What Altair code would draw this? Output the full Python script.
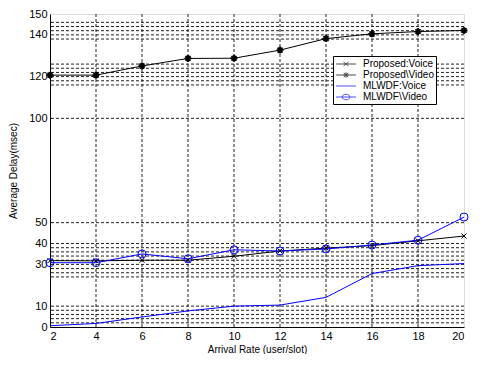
import altair as alt
import pandas as pd

x_vals = [2, 4, 6, 8, 10, 12, 14, 16, 18, 20]
prop_voice = [31.8, 31.7, 32.0, 32.0, 33.9, 36.4, 37.8, 39.0, 41.3, 43.6]
prop_video = [120.7, 120.7, 125.1, 128.7, 128.8, 132.7, 138.2, 140.5, 141.6, 142.1]
mlwdf_voice = [0.6, 1.7, 4.8, 7.7, 10.0, 10.5, 14.2, 25.6, 29.4, 30.4]
mlwdf_video = [30.8, 30.8, 35.0, 32.7, 37.0, 36.4, 37.4, 39.3, 41.6, 52.7]
series_names = ["Proposed:Voice", "Proposed\\Video", "MLWDF:Voice", "MLWDF\\Video"]
series_colors = ["#000000", "#000000", "#0000ff", "#0000ff"]
x_ticks = [2, 4, 6, 8, 10, 12, 14, 16, 18, 20]
y_labeled = [0, 10, 30, 40, 50, 100, 120, 140, 150]
y_grid = [2, 4, 6, 8, 10, 24, 26, 28, 30, 32, 34, 36, 38, 40, 50, 100,
          116, 118, 120, 122, 124, 126, 138, 140, 142, 144, 146]
x_grid = [4, 6, 8, 10, 12, 14, 16, 18]

rows = []
for name, vals in zip(series_names, [prop_voice, prop_video, mlwdf_voice, mlwdf_video]):
    for i, (xv, yv) in enumerate(zip(x_vals, vals)):
        rows.append({"x": xv, "y": yv, "series": name, "order": i})
df = pd.DataFrame(rows)

font = "Liberation Sans"

x_axis = alt.Axis(values=x_ticks, title="Arrival Rate (user/slot)", grid=False,
                  ticks=False, labelPadding=3, labelFontSize=11, titleFontSize=10,
                  titlePadding=3, labelFont=font, titleFont=font,
                  titleFontWeight="normal", domainColor="#000000",
                  labelColor="#000000", titleColor="#000000", labelOverlap=False)
y_axis = alt.Axis(values=y_labeled, title="Average Delay(msec)",
                  grid=False, ticks=False,
                  labelPadding=3, labelFontSize=11, titleFontSize=10,
                  titlePadding=10, labelFont=font, titleFont=font,
                  titleFontWeight="normal", domainColor="#000000",
                  labelColor="#000000", titleColor="#000000", labelOverlap=False)
x_scale = alt.Scale(domain=[2, 20], nice=False, zero=False)
y_scale = alt.Scale(domain=[0, 150], nice=False)

def X(field="x"):
    return alt.X(f"{field}:Q", scale=x_scale, axis=x_axis, title="Arrival Rate (user/slot)")

def Y(field="y"):
    return alt.Y(f"{field}:Q", scale=y_scale, axis=y_axis, title="Average Delay(msec)")

hgrid = alt.Chart(pd.DataFrame({"y": y_grid})).mark_rule(
    color="#222222", strokeWidth=1, strokeDash=[3, 2]
).encode(y=Y())
vgrid = alt.Chart(pd.DataFrame({"x": x_grid})).mark_rule(
    color="#222222", strokeWidth=1, strokeDash=[3, 2]
).encode(x=X())

base = alt.Chart(df)

line_layers = []
for name, col in zip(series_names, series_colors):
    line_layers.append(
        base.transform_filter(alt.datum.series == name).mark_line(strokeWidth=1, color=col)
        .encode(x=X(), y=Y(), order="order:Q")
    )

m_x = base.transform_filter(alt.datum.series == series_names[0]).mark_point(
    shape="M-1,-1L1,1M-1,1L1,-1", size=25, filled=False, color="#000000", strokeWidth=1, opacity=1
).encode(x=X(), y=Y())
m_star = base.transform_filter(alt.datum.series == series_names[1]).mark_point(
    shape="M-1,0L1,0M0,-1L0,1M-0.7,-0.7L0.7,0.7M-0.7,0.7L0.7,-0.7", size=49, filled=False,
    color="#000000", strokeWidth=1.8, opacity=1
).encode(x=X(), y=Y())
m_circ = base.transform_filter(alt.datum.series == series_names[3]).mark_point(
    shape="circle", size=64, filled=False, color="#0000ff", strokeWidth=1, opacity=1
).encode(x=X(), y=Y())

legend_paths = [
    "M-1.8,0L1.8,0M-0.45,-0.35L0.45,0.35M-0.45,0.35L0.45,-0.35",
    "M-1.8,0L1.8,0M-0.5,0L0.5,0M0,-0.5L0,0.5M-0.4,-0.4L0.4,0.4M-0.4,0.4L0.4,-0.4",
    "M-1.8,0L1.8,0",
    "M-1.8,0L1.8,0M0.7,0A0.7,0.5 0 1,1 -0.7,0A0.7,0.5 0 1,1 0.7,0",
]

legend_cfg = dict(title=None, orient="none", legendX=283, legendY=42,
                  fillColor="#ffffff", strokeColor="#000000", padding=2,
                  rowPadding=0, symbolStrokeWidth=1,
                  symbolSize=121, symbolOffset=5, labelOffset=11,
                  labelFont=font, labelFontSize=10, labelColor="#000000",
                  labelLimit=200)

leg = base.transform_filter(alt.datum.x > 1000).mark_point(filled=False, size=121, strokeWidth=1).encode(
    x=X(), y=Y(),
    color=alt.Color("series:N", scale=alt.Scale(domain=series_names, range=series_colors),
                    legend=alt.Legend(**legend_cfg)),
    shape=alt.Shape("series:N", scale=alt.Scale(domain=series_names, range=legend_paths),
                    legend=alt.Legend(**legend_cfg)),
)

chart = alt.layer(hgrid, vgrid, *line_layers, m_x, m_star, m_circ, leg).properties(
    width=414, height=313,
    padding={"left": 0, "top": 0, "right": 0, "bottom": 0},
).configure_view(stroke="#000000", strokeWidth=1).configure(background="#ffffff")

chart.save("out.html", embed_options={"renderer": "svg", "actions": False})
